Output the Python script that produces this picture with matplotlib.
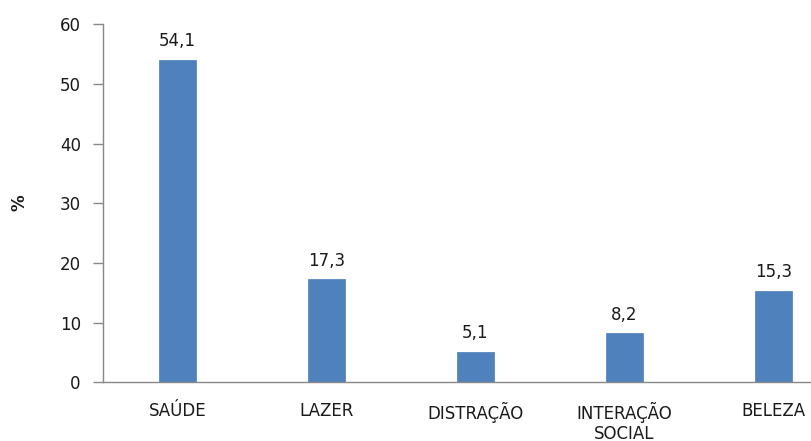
import matplotlib.pyplot as plt

categories = ["SAÚDE", "LAZER", "DISTRAÇÃO", "INTERAÇÃO\nSOCIAL", "BELEZA"]
values = [54.1, 17.3, 5.1, 8.2, 15.3]
y_ticks = [0, 10, 20, 30, 40, 50, 60]

W, H = 812, 441
fig = plt.figure(figsize=(W / 100, H / 100), dpi=100)
plt.rcParams["font.family"] = "DejaVu Sans"
FS = 12
TXT = "#1a1a1a"

# plot area runs past the right edge of the figure
left, right = 103, 848
bottom, top = 382.3, 24.3
ax = fig.add_axes([left / W, (H - bottom) / H, (right - left) / W, (bottom - top) / H])

x = range(len(categories))
bars = ax.bar(x, values, width=0.25, color="#4F81BD", edgecolor="#4A7EBB", linewidth=0.5)

for xi, v in zip(x, values):
    ax.text(xi, v + 1.6, f"{v:.1f}".replace(".", ","), ha="center", va="bottom",
            fontsize=FS, color=TXT)

ax.set_xlim(-0.5, 4.5)
ax.set_ylim(0, 60)
ax.set_yticks(y_ticks)
ax.set_xticks(list(x))
ax.set_xticklabels(categories, fontsize=FS, color=TXT, linespacing=1.12)
ax.tick_params(axis="x", length=0, pad=14)
ax.tick_params(axis="y", length=7, width=1, color="#888888", labelsize=FS,
               labelcolor=TXT, pad=9, direction="out")

for side in ["top", "right"]:
    ax.spines[side].set_visible(False)
for side in ["left", "bottom"]:
    ax.spines[side].set_color("#888888")
    ax.spines[side].set_linewidth(1)

fig.text(20 / W, (H - 203) / H, "%", rotation=90, ha="center", va="center",
         fontsize=FS, fontweight="bold", color=TXT)

fig.savefig("out.png", dpi=100)
